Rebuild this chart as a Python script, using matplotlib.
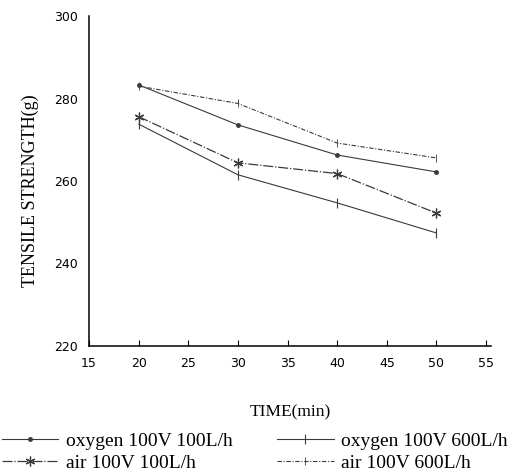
import matplotlib
matplotlib.use("Agg")
import matplotlib.pyplot as plt

time = [20, 30, 40, 50]
oxy_100 = [283.3, 273.6, 266.3, 262.2]
air_100 = [275.6, 264.4, 261.8, 252.2]
oxy_600 = [273.8, 261.5, 254.7, 247.4]
air_600 = [283.0, 278.8, 269.2, 265.6]
labels = ["oxygen 100V 100L/h", "oxygen 100V 600L/h", "air 100V 100L/h", "air 100V 600L/h"]
xticks = [15, 20, 25, 30, 35, 40, 45, 50, 55]
yticks = [220, 240, 260, 280, 300]

fig = plt.figure(figsize=(5.28, 4.75), dpi=100)
ax = fig.add_axes([0.1686, 0.2716, 0.7614, 0.6947])

c = "#3a3a3a"
h1, = ax.plot(time, oxy_100, color=c, lw=0.8, ls="-", marker="o", ms=2.5)
h2, = ax.plot(time, oxy_600, color=c, lw=0.8, ls="-", marker="|", ms=7, mew=0.8)
h3, = ax.plot(time, air_100, color=c, lw=0.9, ls=(0, (8, 1.5, 1, 1.5)), marker=(6, 2, 0), ms=7, mew=0.9)
h4, = ax.plot(time, air_600, color=c, lw=0.8, ls=(0, (4, 1.5, 1, 1.5)), marker="|", ms=6, mew=0.6)

ax.set_xlim(15, 55.5)
ax.set_ylim(220, 300)
ax.set_xticks(xticks)
ax.set_yticks(yticks)
ax.set_xticklabels([str(v) for v in xticks], fontsize=9, family="DejaVu Sans")
ax.set_yticklabels([str(v) for v in yticks], fontsize=9, family="DejaVu Sans")
ax.tick_params(axis="x", direction="in", length=4, width=0.8, pad=8)
ax.tick_params(axis="y", length=0, pad=8)
for s in ["top", "right"]:
    ax.spines[s].set_visible(False)
for s in ["left", "bottom"]:
    ax.spines[s].set_linewidth(1.1)
    ax.spines[s].set_color("black")

ax.set_xlabel("TIME(min)", family="Liberation Serif", fontsize=12.5, labelpad=25)
ax.set_ylabel("TENSILE STRENGTH(g)", family="Liberation Serif", fontsize=13)
ax.yaxis.set_label_coords(-0.125, 0.47)

fig.legend([h1, h3, h2, h4], [labels[0], labels[2], labels[1], labels[3]],
           ncol=2, loc="lower left", bbox_to_anchor=(-0.03, -0.03),
           frameon=False, prop={"family": "Liberation Serif", "size": 14},
           handlelength=2.9, columnspacing=2.3, handletextpad=0.4, labelspacing=0.2)

fig.savefig("out.png", dpi=100)
